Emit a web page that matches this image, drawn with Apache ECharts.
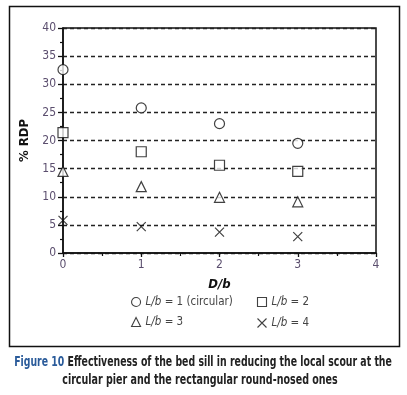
<!DOCTYPE html>
<html lang="en">
<head>
  <meta charset="UTF-8">
  <title>Bed sill effectiveness</title>
  <script src="https://cdn.jsdelivr.net/npm/echarts@6/dist/echarts.min.js"></script>
  <style>
    html, body { margin: 0; padding: 0; background: #fff; }
  </style>
</head>
<body>
<div id="main" style="width:407px;height:395px;"></div>
<script>
  // D/b positions
  var dbVals = [0, 1, 2, 3];
  // % RDP for each pier shape
  var lb1 = [32.6, 25.8, 23.0, 19.5];   // L/b = 1 (circular)
  var lb2 = [21.4, 18.0, 15.6, 14.5];   // L/b = 2
  var lb3 = [14.5, 11.8, 9.9, 9.1];     // L/b = 3
  var lb4 = [5.8, 4.7, 3.7, 2.9];       // L/b = 4
  var seriesNames = ['L/b = 1 (circular)', 'L/b = 2', 'L/b = 3', 'L/b = 4'];
  var legendLabels = ['{i|L/b} = 1 (circular)', '{i|L/b} = 2', '{i|L/b} = 3', '{i|L/b} = 4'];

  var FONT = '"Liberation Sans Narrow", "DejaVu Sans Condensed", Arial, sans-serif';
  var crossPath = 'path://M0,0L10,10M10,0L0,10';

  function pairs(vals) {
    var out = [];
    for (var i = 0; i < vals.length; i++) out.push([dbVals[i], vals[i]]);
    return out;
  }

  function mkSeries(name, vals, symbol, size) {
    return {
      name: name,
      type: 'scatter',
      data: pairs(vals),
      symbol: symbol,
      symbolSize: size,
      itemStyle: { color: symbol === crossPath ? 'none' : '#fff', borderColor: '#111', borderWidth: 1.2 },
      z: 5
    };
  }

  var legendText = {
    fontFamily: FONT, fontSize: 11.5, color: '#444',
    rich: { i: { fontFamily: FONT, fontSize: 11.5, fontStyle: 'italic', color: '#444' } }
  };
  function legendFmt(n) { return legendLabels[seriesNames.indexOf(n)]; }

  var myChart = echarts.init(document.getElementById('main'));

  var option = {
    animation: false,
    backgroundColor: '#fff',
    grid: { left: 63, top: 28, right: 31, bottom: 142, show: true, borderColor: '#111', borderWidth: 1.5 },
    legend: [
      {
        data: [seriesNames[0], seriesNames[2]], orient: 'vertical', left: 131, top: 296, padding: 0,
        itemWidth: 9, itemHeight: 9, itemGap: 8, textStyle: legendText, formatter: legendFmt,
        itemStyle: { borderWidth: 1.1 }
      },
      {
        data: [seriesNames[1], seriesNames[3]], orient: 'vertical', left: 255, top: 296, padding: 0,
        itemWidth: 9, itemHeight: 9, itemGap: 8, textStyle: legendText, formatter: legendFmt,
        itemStyle: { borderWidth: 1.1 }
      }
    ],
    xAxis: {
      type: 'value', min: 0, max: 4, interval: 1,
      name: 'D/b', nameLocation: 'middle', nameGap: 25,
      nameTextStyle: { fontFamily: FONT, fontSize: 13, fontWeight: 'bold', fontStyle: 'italic', color: '#111' },
      axisLine: { lineStyle: { color: '#111', width: 1.5 } },
      axisTick: { show: true, length: 4, lineStyle: { color: '#111', width: 1.3 } },
      minorTick: { show: true, splitNumber: 2, length: 3, lineStyle: { color: '#111', width: 1.2 } },
      axisLabel: { fontFamily: FONT, fontSize: 12, color: '#5b4e6e', margin: 6 },
      splitLine: { show: false }
    },
    yAxis: {
      type: 'value', min: 0, max: 40, interval: 5,
      name: '% RDP', nameLocation: 'middle', nameGap: 25,
      nameTextStyle: { fontFamily: FONT, fontSize: 13, fontWeight: 'bold', color: '#111' },
      axisLine: { lineStyle: { color: '#111', width: 1.5 } },
      axisTick: { show: true, length: 5, lineStyle: { color: '#111', width: 1.3 } },
      minorTick: { show: true, splitNumber: 2, length: 3, lineStyle: { color: '#111', width: 1.2 } },
      axisLabel: { fontFamily: FONT, fontSize: 12, color: '#5b4e6e', margin: 7 },
      splitLine: { show: true, lineStyle: { color: '#222', width: 1.3, type: [4, 3] } }
    },
    series: [
      mkSeries(seriesNames[0], lb1, 'circle', 10),
      mkSeries(seriesNames[1], lb2, 'rect', 10),
      mkSeries(seriesNames[2], lb3, 'triangle', 10),
      mkSeries(seriesNames[3], lb4, crossPath, 9)
    ],
    graphic: [
      {
        type: 'rect', left: 7, top: 4, silent: true,
        shape: { width: 390, height: 340 },
        style: { fill: 'none', stroke: '#111', lineWidth: 1.5 }
      },
      {
        type: 'text', x: 203, y: 355, scaleX: 0.77,
        style: {
          text: '{b|Figure 10} Effectiveness of the bed sill in reducing the local scour at the',
          textAlign: 'center',
          fontFamily: FONT, fontSize: 13.5, fontWeight: 'bold', fill: '#222',
          rich: { b: { fontFamily: FONT, fontSize: 13.5, fontWeight: 'bold', fill: '#2a5b9a' } }
        }
      },
      {
        type: 'text', x: 200, y: 373, scaleX: 0.785,
        style: {
          text: 'circular pier and the rectangular round-nosed ones',
          textAlign: 'center',
          fontFamily: FONT, fontSize: 13.5, fontWeight: 'bold', fill: '#222'
        }
      }
    ]
  };

  myChart.setOption(option);
</script>
</body>
</html>
